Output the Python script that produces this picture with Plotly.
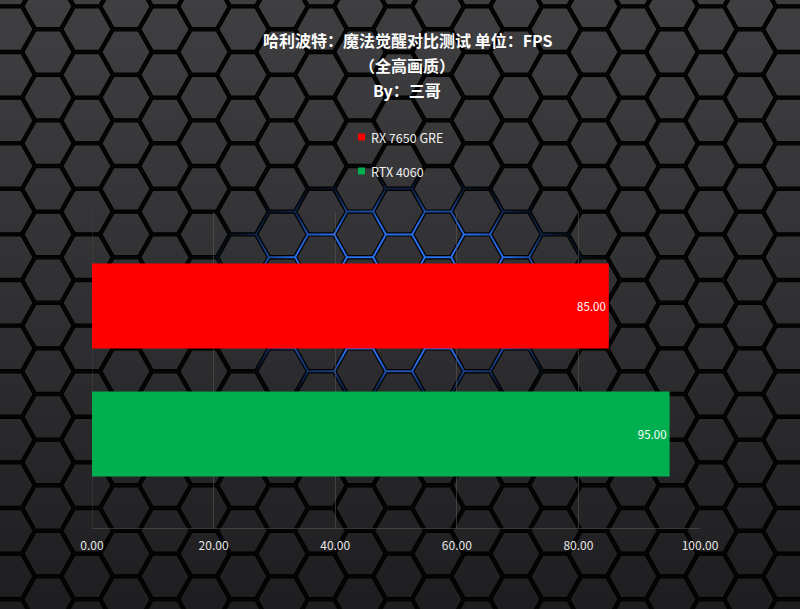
import base64
import plotly.graph_objects as go

# ---- data ----
categories = ["RX 7650 GRE", "RTX 4060"]
fps_values = [85.00, 95.00]
bar_colors = ["#ff0000", "#00b050"]
tick_values = [0, 20, 40, 60, 80, 100]
title_lines = ["哈利波特：魔法觉醒对比测试 单位：FPS", "（全高画质）", "By：三哥"]

W, H = 800, 609
L, R, T, B = 92, 100, 212, 81
PW, PH = W - L - R, H - T - B

# ---- hexagon background as an SVG image ----
a, h = 26.0, 22.8
f = 0.928
polys = []
for col in range(-1, 12):
    for parity, (x0, y0) in enumerate([(48, 52), (87, 29.2)]):
        cx = x0 + 78 * col
        for row in range(-1, 15):
            cy = y0 + 2 * h * row
            pts = [(a, 0), (a / 2, h), (-a / 2, h), (-a, 0), (-a / 2, -h), (a / 2, -h)]
            s = " ".join(f"{cx + px * f:.1f},{cy + py * f:.1f}" for px, py in pts)
            polys.append(f'<polygon points="{s}"/>')

svg = f'''<svg xmlns="http://www.w3.org/2000/svg" width="{W}" height="{H}" viewBox="0 0 {W} {H}" preserveAspectRatio="none">
<defs>
<linearGradient id="g" x1="0" y1="0" x2="0" y2="{H}" gradientUnits="userSpaceOnUse">
<stop offset="0" stop-color="#3f3f41"/><stop offset="0.5" stop-color="#303032"/><stop offset="1" stop-color="#1e1e20"/>
</linearGradient>
<radialGradient id="b" cx="400" cy="292" r="205" gradientUnits="userSpaceOnUse" gradientTransform="translate(400 292) scale(1 0.58) translate(-400 -292)">
<stop offset="0" stop-color="#2f7bff" stop-opacity="1"/><stop offset="0.6" stop-color="#2a70f0" stop-opacity="0.95"/><stop offset="1" stop-color="#1a4aa0" stop-opacity="0"/>
</radialGradient>
</defs>
<rect x="0" y="0" width="{W}" height="{H}" fill="#050505"/>
<rect x="0" y="0" width="{W}" height="{H}" fill="url(#b)"/>
<g fill="url(#g)" stroke="#000" stroke-width="1.2">
{''.join(polys)}
</g>
</svg>'''
src = "data:image/svg+xml;base64," + base64.b64encode(svg.encode("utf-8")).decode("ascii")

FONT = "Noto Sans CJK SC, Noto Sans, sans-serif"

fig = go.Figure()
for cat, val, col in zip(categories, fps_values, bar_colors):
    fig.add_trace(go.Bar(
        x=[val], y=[cat], orientation="h", name=cat,
        marker=dict(color=col, line=dict(width=0)),
        width=0.664,
        texttemplate="%{x:.2f}", textposition="inside", insidetextanchor="end",
        textfont=dict(color="#ffffff", size=11.5, family=FONT),
        showlegend=False, hoverinfo="x+y",
    ))

fig.add_layout_image(dict(
    source=src, xref="paper", yref="paper",
    x=-L / PW, y=1 + T / PH, sizex=W / PW, sizey=H / PH,
    xanchor="left", yanchor="top", sizing="stretch", layer="below",
))

def px_x(x):
    return (x - L) / PW

def px_y(y):
    return 1 + (T - y) / PH

for i, line in enumerate(title_lines):
    fig.add_annotation(
        text=f"<b>{line}</b>", xref="paper", yref="paper",
        x=px_x(407), y=px_y(40 + 25 * i),
        xanchor="center", yanchor="middle", showarrow=False,
        font=dict(color="#ffffff", size=16, family=FONT),
    )

# legend (swatch + label)
for i, (cat, col) in enumerate(zip(categories, bar_colors)):
    yc = 137 + 34 * i
    fig.add_shape(type="rect", xref="paper", yref="paper",
                  x0=px_x(358), x1=px_x(365), y0=px_y(yc - 3.5), y1=px_y(yc + 3.5),
                  fillcolor=col, line=dict(width=0))
    fig.add_annotation(
        text=cat, xref="paper", yref="paper", x=px_x(369), y=px_y(yc),
        xanchor="left", yanchor="middle", showarrow=False,
        font=dict(color="#eeeeee", size=12.5, family=FONT),
    )

fig.update_layout(
    width=W, height=H,
    margin=dict(l=L, r=R, t=T, b=B, pad=0),
    paper_bgcolor="#1a1a1a", plot_bgcolor="rgba(0,0,0,0)",
    barmode="overlay", showlegend=False,
    font=dict(family=FONT, color="#e6e6e6", size=12),
    xaxis=dict(
        range=[0, 100], tickvals=tick_values, tickformat=".2f",
        showgrid=True, gridcolor="rgba(90,90,90,0.55)", gridwidth=1,
        zeroline=False, showline=True, linecolor="rgba(90,90,90,0.55)", linewidth=1,
        ticks="outside", ticklen=7, tickcolor="rgba(0,0,0,0)",
        tickfont=dict(size=12, color="#e6e6e6"),
        fixedrange=True,
    ),
    yaxis=dict(
        type="category", categoryorder="array", categoryarray=categories,
        range=[1.735, -0.735], showgrid=False, showticklabels=False,
        zeroline=False, showline=False, ticks="", fixedrange=True,
    ),
)
fig.add_shape(type="line", xref="x", yref="paper", x0=0, x1=0, y0=0, y1=1,
              line=dict(color="rgba(90,90,90,0.55)", width=1), layer="below")

fig.write_html(
    "out.html",
    config={"displayModeBar": False},
    post_script="document.body.style.margin='0';document.body.style.overflow='hidden';",
)
